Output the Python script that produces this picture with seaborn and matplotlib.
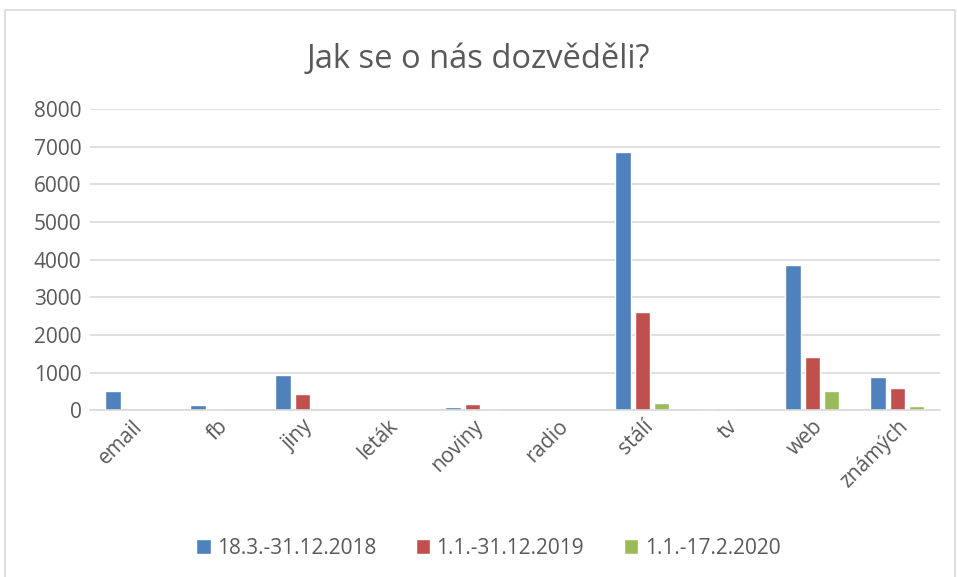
import pandas as pd
import numpy as np
import matplotlib.pyplot as plt
import seaborn as sns
from matplotlib.patches import Rectangle

# data
kategorie = ["email", "fb", "jiny", "leták", "noviny", "radio", "stálí", "tv", "web", "známých"]
obdobi = ["18.3.-31.12.2018", "1.1.-31.12.2019", "1.1.-17.2.2020"]
hodnoty_2018 = [505, 150, 930, 0, 90, 0, 6870, 25, 3870, 870]
hodnoty_2019 = [0, 45, 425, 0, 160, 0, 2620, 25, 1420, 595]
hodnoty_2020 = [0, 15, 15, 15, 45, 0, 205, 0, 500, 105]
barvy = ["#4F81BD", "#C0504D", "#9BBB59"]

df = pd.DataFrame({
    "kategorie": kategorie * 3,
    "obdobi": [obdobi[0]] * 10 + [obdobi[1]] * 10 + [obdobi[2]] * 10,
    "pocet": hodnoty_2018 + hodnoty_2019 + hodnoty_2020,
})

sns.set_style("white")
plt.rcParams["font.family"] = ["Open Sans", "DejaVu Sans"]
text_color = "#595959"

fig = plt.figure(figsize=(9.57, 5.77), dpi=100)
ax = fig.add_axes([0.094, 0.289, 0.888, 0.522])

sns.barplot(
    data=df, x="kategorie", y="pocet", hue="obdobi",
    palette=barvy, saturation=1, width=0.68, gap=0.2, ax=ax, legend=True,
)

ax.set_ylim(0, 8000)
ax.set_yticks(np.arange(0, 8001, 1000))
ax.set_xlim(-0.5, 9.5)
ax.grid(axis="y", color="#D9D9D9", linewidth=1.2)
ax.set_axisbelow(True)
for s in ["top", "right", "left"]:
    ax.spines[s].set_visible(False)
ax.spines["bottom"].set_color("#D9D9D9")
ax.spines["bottom"].set_linewidth(1.2)
ax.set_xlabel("")
ax.set_ylabel("")
ax.tick_params(axis="both", length=0, colors=text_color, labelsize=15)
ax.tick_params(axis="y", pad=6)
ax.tick_params(axis="x", pad=4)
plt.setp(ax.get_xticklabels(), rotation=45, ha="right", rotation_mode="anchor")

ax.legend_.remove()
handles, labels = ax.get_legend_handles_labels()
fig.legend(
    handles, labels, loc="center", bbox_to_anchor=(0.51, 0.05), ncol=3,
    frameon=False, fontsize=15, labelcolor=text_color,
    handlelength=0.7, handleheight=0.7, handletextpad=0.3, columnspacing=1.9,
)

fig.suptitle("Jak se o nás dozvěděli?", y=0.925, fontsize=23.5, color=text_color)

# thin frame round the whole chart
fig.patches.append(Rectangle((0.005, -0.01), 0.993, 0.993, transform=fig.transFigure,
                             fill=False, edgecolor="#D9D9D9", linewidth=1.2))

fig.savefig("out.png", dpi=100)
